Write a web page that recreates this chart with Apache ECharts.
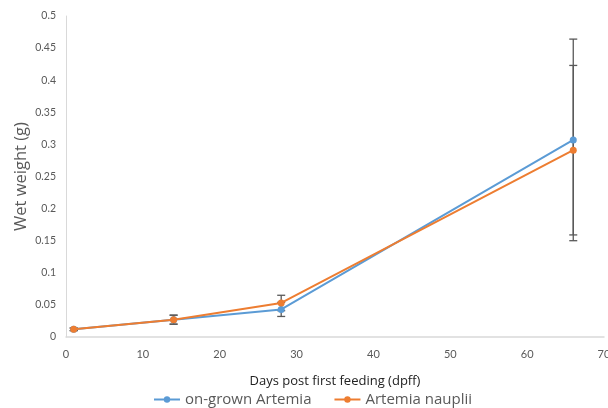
<!DOCTYPE html>
<html>
<head>
<meta charset="utf-8">
<script src="https://cdn.jsdelivr.net/npm/echarts@6/dist/echarts.min.js"></script>
<style>
  html, body { margin: 0; padding: 0; background: #fff; }
  #chart { width: 608px; height: 408px; }
</style>
</head>
<body>
<div id="chart"></div>
<script>
// Sampling days (dpff)
const days = [1, 14, 28, 66];

// Mean wet weight (g) per feeding regime
const onGrownMean = [0.012, 0.027, 0.043, 0.307];
const naupliiMean = [0.012, 0.027, 0.053, 0.291];

// Standard deviation (g)
const onGrownSd = [0.002, 0.007, 0.011, 0.157];
const naupliiSd = [0.002, 0.007, 0.012, 0.132];

const seriesNames = ['on-grown Artemia', 'Artemia nauplii'];
const colors = ['#5B9BD5', '#ED7D31'];
const font = 'Lato, "Liberation Sans", sans-serif';
const titleFont = '"Open Sans", Lato, sans-serif';

function errorData(mean, sd) {
  return days.map((d, i) => [d, mean[i] - sd[i], mean[i] + sd[i]]);
}

function renderErrorBar(params, api) {
  const x = api.value(0);
  const lo = api.coord([x, api.value(1)]);
  const hi = api.coord([x, api.value(2)]);
  const cap = 4;
  const style = { stroke: '#595959', lineWidth: 1.3 };
  return {
    type: 'group',
    children: [
      { type: 'line', shape: { x1: hi[0], y1: hi[1], x2: lo[0], y2: lo[1] }, style },
      { type: 'line', shape: { x1: hi[0] - cap, y1: hi[1], x2: hi[0] + cap, y2: hi[1] }, style },
      { type: 'line', shape: { x1: lo[0] - cap, y1: lo[1], x2: lo[0] + cap, y2: lo[1] }, style }
    ]
  };
}

const chart = echarts.init(document.getElementById('chart'));
chart.setOption({
  animation: false,
  textStyle: { fontFamily: font },
  grid: { left: 66, right: 4, top: 16, bottom: 71, outerBoundsMode: 'none', containLabel: false },
  legend: {
    data: seriesNames,
    top: 387,
    left: 148,
    itemWidth: 26,
    itemHeight: 8,
    itemGap: 22,
    textStyle: { color: '#595959', fontSize: 15, fontFamily: titleFont }
  },
  xAxis: {
    type: 'value',
    min: 0,
    max: 70,
    interval: 10,
    name: 'Days post first feeding (dpff)',
    nameLocation: 'middle',
    nameGap: 38,
    nameMoveOverlap: false,
    nameTextStyle: { color: '#222', fontSize: 13, fontFamily: titleFont },
    axisLine: { lineStyle: { color: '#d9d9d9', width: 1.5 } },
    axisTick: { show: false },
    axisLabel: { color: '#595959', fontSize: 11, margin: 12 },
    splitLine: { show: false }
  },
  yAxis: {
    type: 'value',
    min: 0,
    max: 0.5,
    interval: 0.05,
    name: 'Wet weight (g)',
    nameLocation: 'middle',
    nameGap: 36,
    nameMoveOverlap: false,
    nameTextStyle: { color: '#595959', fontSize: 16.5, fontFamily: titleFont },
    axisLine: { show: true, lineStyle: { color: '#d9d9d9', width: 1 } },
    axisTick: { show: false },
    axisLabel: { color: '#595959', fontSize: 10.5, margin: 10 },
    splitLine: { show: false }
  },
  series: [
    {
      name: seriesNames[0],
      type: 'line',
      data: days.map((d, i) => [d, onGrownMean[i]]),
      color: colors[0],
      lineStyle: { width: 2 },
      symbol: 'circle',
      symbolSize: 7,
      z: 3
    },
    {
      name: seriesNames[1],
      type: 'line',
      data: days.map((d, i) => [d, naupliiMean[i]]),
      color: colors[1],
      lineStyle: { width: 2 },
      symbol: 'circle',
      symbolSize: 7,
      z: 4
    },
    {
      type: 'custom',
      renderItem: renderErrorBar,
      data: errorData(onGrownMean, onGrownSd),
      encode: { x: 0, y: [1, 2] },
      z: 2
    },
    {
      type: 'custom',
      renderItem: renderErrorBar,
      data: errorData(naupliiMean, naupliiSd),
      encode: { x: 0, y: [1, 2] },
      z: 2
    }
  ]
});
</script>
</body>
</html>
